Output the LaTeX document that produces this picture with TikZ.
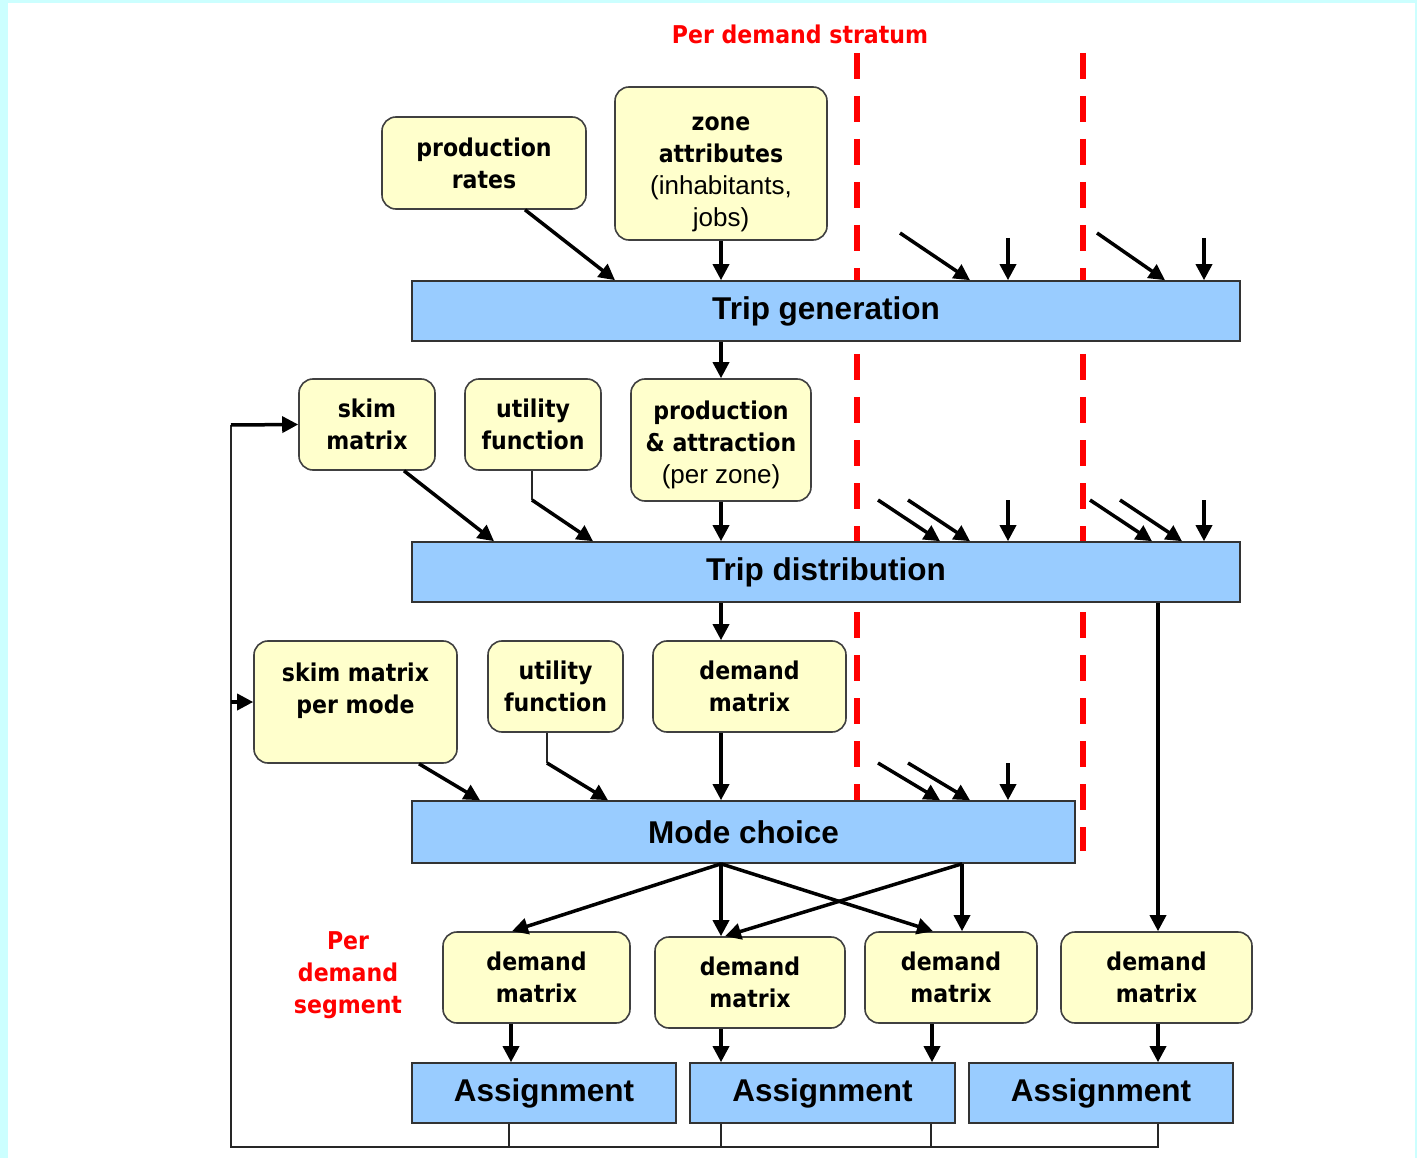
\documentclass[tikz,border=0pt]{standalone}
\usepackage{fontspec}
\usetikzlibrary{arrows.meta,calc}
\setmainfont{Liberation Sans}
\newfontfamily\tahoma{DejaVu Sans}[FakeStretch=0.9]
\definecolor{ybox}{HTML}{FFFFCC}
\definecolor{bbox}{HTML}{99CCFF}
\definecolor{cyanbg}{HTML}{CCFFFF}
\definecolor{redc}{HTML}{FF0000}
\newcommand\regtxt{\normalfont\fontsize{26}{32}\selectfont}
\begin{document}
\begin{tikzpicture}[x=1pt,y=-1pt,
  ynode/.style={draw=black!75, line width=1.6pt, fill=ybox, rounded corners=14pt, align=center, inner sep=0pt, font=\tahoma\bfseries\fontsize{24.5}{32}\selectfont},
  bnode/.style={draw=black!80, line width=1.6pt, fill=bbox, inner sep=0pt, font=\bfseries\fontsize{31.5}{36}\selectfont},
  arr/.style={line width=3.5pt, -{Triangle[length=16pt,width=16pt]}},
  thinl/.style={line width=1.8pt, draw=black!85},
  redlbl/.style={text=redc, font=\tahoma\bfseries\fontsize{24.5}{32}\selectfont, align=center},
  strat/.style={draw=redc, line width=5.5pt, dash pattern=on 26pt off 17pt}
]
% background
\fill[cyanbg] (0,0) rectangle (1417,1158);
\fill[white] (8,3) rectangle (1415,1158);
\useasboundingbox (0,0) rectangle (1417,1158);

% strata lines
\coordinate (l1t) at (857,53);
\coordinate (l1b) at (857,801);
\coordinate (l2t) at (1083,53);
\coordinate (l2b) at (1083,851);
\draw[strat] (l1t) -- (l1b);
\draw[strat] (l2t) -- (l2b);

% labels
\node[redlbl] (title) at (800,34) {Per demand stratum};
\node[redlbl] (seg) at (348,975) {Per\\demand\\segment};

% blue process boxes
\node[bnode, minimum width=828pt, minimum height=60pt] (tg) at (826,311) {Trip generation};
\node[bnode, minimum width=828pt, minimum height=60pt] (td) at (826,572) {Trip distribution};
\node[bnode, minimum width=663pt, minimum height=62pt] (mc) at (743.5,832) {Mode choice};
\node[bnode, minimum width=264pt, minimum height=60pt] (a1) at (544,1093) {Assignment};
\node[bnode, minimum width=265pt, minimum height=60pt] (a2) at (822.5,1093) {Assignment};
\node[bnode, minimum width=264pt, minimum height=60pt] (a3) at (1101,1093) {Assignment};

% yellow data boxes
\node[ynode, minimum width=204pt, minimum height=92pt] (pr) at (484,163) {production\\rates};
\node[ynode, minimum width=212pt, minimum height=153pt] (za) at (721,163.5) {\rule{0pt}{35pt}zone\\attributes\\{\regtxt (inhabitants,}\\{\regtxt jobs)}};
\node[ynode, minimum width=136pt, minimum height=91pt] (sm) at (367,424.5) {skim\\matrix};
\node[ynode, minimum width=136pt, minimum height=91pt] (uf) at (533,424.5) {utility\\function};
\node[ynode, minimum width=180pt, minimum height=122pt] (pa) at (721,440) {\rule{0pt}{28pt}production\\\& attraction\\{\regtxt (per zone)}};
\node[ynode, minimum width=203pt, minimum height=122pt] (smm) at (355.5,702) {\rule{0pt}{22pt}skim matrix\\per mode\\\mbox{}};
\node[ynode, minimum width=135pt, minimum height=91pt] (uf2) at (555.5,686.5) {utility\\function};
\node[ynode, minimum width=193pt, minimum height=91pt] (dm0) at (749.5,686.5) {demand\\matrix};
\node[ynode, minimum width=187pt, minimum height=91pt] (d1) at (536.5,977.5) {demand\\matrix};
\node[ynode, minimum width=190pt, minimum height=91pt] (d2) at (750,982.5) {demand\\matrix};
\node[ynode, minimum width=172pt, minimum height=91pt] (d3) at (951,977.5) {demand\\matrix};
\node[ynode, minimum width=191pt, minimum height=91pt] (d4) at (1156.5,977.5) {demand\\matrix};

% stratum input coordinates
\coordinate (s1a) at (900,233);
\coordinate (s1b) at (1008,238);
\coordinate (s2a) at (1097,233);
\coordinate (s2b) at (1204,238);
\coordinate (t1a) at (878,500);
\coordinate (t1b) at (908,500);
\coordinate (t1c) at (1008,500);
\coordinate (t2a) at (1090,500);
\coordinate (t2b) at (1120,500);
\coordinate (t2c) at (1204,500);
\coordinate (m1a) at (878,763);
\coordinate (m1b) at (908,763);
\coordinate (m1c) at (1008,763);
\coordinate (ufk) at (532,500);
\coordinate (uf2k) at (547,763);
\coordinate (fbr) at (1158,1147);
\coordinate (fbl) at (231,1147);
\coordinate (fbt) at (231,425);
\coordinate (fbm) at (231,702);

% trip generation inputs
\draw[arr] (525,0 |- pr.south) -- (615,0 |- tg.north);
\draw[arr] (za.south) -- (721,0 |- tg.north);
\draw[arr] (s1a) -- (970,0 |- tg.north);
\draw[arr] (s1b) -- (1008,0 |- tg.north);
\draw[arr] (s2a) -- (1165,0 |- tg.north);
\draw[arr] (s2b) -- (1204,0 |- tg.north);

% trip distribution
\draw[arr] (721,0 |- tg.south) -- (pa.north);
\draw[arr] (404,0 |- sm.south) -- (494,0 |- td.north);
\draw[thinl] (532,0 |- uf.south) -- (ufk);
\draw[arr] (ufk) -- (593,0 |- td.north);
\draw[arr] (pa.south) -- (721,0 |- td.north);
\draw[arr] (t1a) -- (940,0 |- td.north);
\draw[arr] (t1b) -- (970,0 |- td.north);
\draw[arr] (t1c) -- (1008,0 |- td.north);
\draw[arr] (t2a) -- (1152,0 |- td.north);
\draw[arr] (t2b) -- (1182,0 |- td.north);
\draw[arr] (t2c) -- (1204,0 |- td.north);

% mode choice
\draw[arr] (721,0 |- td.south) -- (721,0 |- dm0.north);
\draw[arr] (1158,0 |- td.south) -- (1158,0 |- d4.north);
\draw[arr] (419,0 |- smm.south) -- (480,0 |- mc.north);
\draw[thinl] (547,0 |- uf2.south) -- (uf2k);
\draw[arr] (uf2k) -- (608,0 |- mc.north);
\draw[arr] (721,0 |- dm0.south) -- (721,0 |- mc.north);
\draw[arr] (m1a) -- (940,0 |- mc.north);
\draw[arr] (m1b) -- (970,0 |- mc.north);
\draw[arr] (m1c) -- (1008,0 |- mc.north);

% mode choice outputs
\draw[arr] (721,0 |- mc.south) -- (512,0 |- d1.north);
\draw[arr] (721,0 |- mc.south) -- (721,0 |- d2.north);
\draw[arr] (721,0 |- mc.south) -- (933,0 |- d3.north);
\draw[arr] (962,0 |- mc.south) -- (962,0 |- d3.north);
\draw[arr] (962,0 |- mc.south) -- (725,0 |- d2.north);

% to assignment
\draw[arr] (511,0 |- d1.south) -- (511,0 |- a1.north);
\draw[arr] (721,0 |- d2.south) -- (721,0 |- a2.north);
\draw[arr] (932,0 |- d3.south) -- (932,0 |- a2.north);
\draw[arr] (1158,0 |- d4.south) -- (1158,0 |- a3.north);

% feedback
\draw[thinl] (509,0 |- a1.south) -- (509,0 |- fbl);
\draw[thinl] (721,0 |- a2.south) -- (721,0 |- fbl);
\draw[thinl] (931,0 |- a2.south) -- (931,0 |- fbl);
\draw[thinl] (1158,0 |- a3.south) -- (fbr) -- (fbl) -- (fbt);
\draw[arr] (fbt) -- (sm.west);
\draw[arr] (fbm) -- (smm.west);
\end{tikzpicture}
\end{document}
